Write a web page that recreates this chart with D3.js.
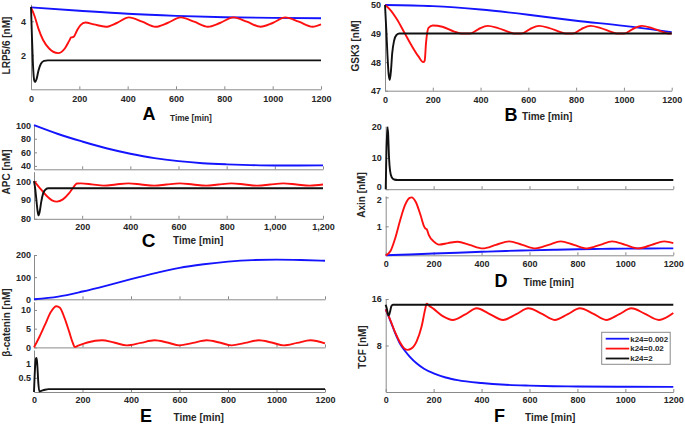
<!DOCTYPE html>
<html>
<head>
<meta charset="utf-8">
<script src="https://cdn.jsdelivr.net/npm/d3@7"></script>
<style>
  html, body { margin: 0; padding: 0; background: #fff; }
  svg { display: block; font-family: "Liberation Sans", Arial, sans-serif; font-weight: bold; }
  .axis .domain, .axis .tick line { stroke: #8a8a8a; stroke-width: 1; }
  .axis text { fill: #262626; font-size: 9px; font-weight: bold; }
</style>
</head>
<body>
<svg id="chart" width="685" height="424"></svg>
<script>
// ---------- data (time [min], concentration [nM]) ----------
const timeTicks = [0, 200, 400, 600, 800, 1000, 1200];
const timeTicksC = [200, 400, 600, 800, 1000, 1200];
const seriesNames = ["k24=0.002", "k24=0.02", "k24=2"];
const seriesColors = ["#1414ff", "#ff1010", "#111111"];

// A: LRP5/6
const lrpBlue = [[0,4.82],[200,4.62],[400,4.44],[600,4.32],[800,4.24],[1000,4.2],[1200,4.18]];
const lrpRed = [[0,4.82],[15,4.3],[30,3.6],[50,2.9],[75,2.4],[112,2.13],[140,2.4],[158,2.85],[166,3.05],[176,3.08],[190,3.45],[205,3.78],[225,3.93],[260,3.82],[310,3.68],[355,3.9],[405,4.23],[460,3.98],[515,3.68],[565,3.9],[620,4.23],[675,3.98],[732,3.68],[782,3.9],[838,4.23],[893,3.98],[950,3.68],[1000,3.9],[1052,4.23],[1108,3.98],[1165,3.68],[1200,3.82]];
const lrpBlack = [[0,4.85],[3,3.5],[8,1.5],[13,0.55],[17,0.42],[23,0.6],[31,1.1],[41,1.5],[54,1.67],[70,1.7],[1200,1.7]];

// B: GSK3
const gskBlue = [[0,50],[200,49.96],[400,49.84],[600,49.66],[800,49.45],[1000,49.27],[1200,49.05]];
const gskRed = [[0,50],[20,49.85],[50,49.5],[80,49.05],[110,48.6],[140,48.2],[160,48.0],[166,48.05],[172,48.7],[182,49.2],[200,49.28],[240,49.24],[290,49.07],[320,49.0],[355,49.0],[390,49.15],[430,49.27],[470,49.2],[520,49.05],[540,49.0],[570,49.0],[605,49.15],[645,49.27],[685,49.2],[735,49.05],[755,49.0],[785,49.0],[820,49.15],[860,49.27],[900,49.2],[950,49.05],[970,49.0],[1000,49.0],[1035,49.15],[1075,49.27],[1115,49.2],[1165,49.05],[1185,49.0],[1200,49.0]];
const gskBlack = [[0,50],[5,49.2],[10,48.3],[15,47.6],[20,47.38],[25,47.7],[30,48.3],[38,48.75],[48,48.95],[60,49.0],[1200,49.0]];

// C: APC
const apcBlue = [[0,100],[100,87],[200,76],[300,66],[400,58],[500,51.5],[600,47],[700,44],[800,42.3],[900,41.2],[1000,40.6],[1100,40.5],[1200,40.8]];
const apcRed = [[0,100],[20,97],[50,92.5],[75,89.8],[95,89.1],[120,90.3],[145,93.5],[165,97],[178,98.7],[195,98.8],[240,98.3],[290,97.6],[340,98.2],[392,98.8],[445,98.2],[500,97.6],[550,98.2],[605,98.8],[660,98.2],[715,97.6],[765,98.2],[820,98.8],[875,98.2],[930,97.6],[980,98.2],[1035,98.8],[1090,98.2],[1145,97.6],[1200,98.2]];
const apcBlack = [[0,100],[5,96],[10,90],[15,84],[19,81.8],[24,84],[30,89],[38,93.5],[48,95.6],[60,96.2],[1200,96.2]];

// D: Axin
const axinBlue = [[0,0],[100,0.03],[200,0.06],[300,0.09],[400,0.12],[500,0.15],[600,0.17],[700,0.19],[800,0.21],[900,0.22],[1000,0.23],[1100,0.235],[1200,0.24]];
const axinRed = [[0,0],[20,0.15],[40,0.6],[60,1.2],[80,1.72],[100,1.98],[108,2.0],[125,1.85],[145,1.4],[160,1.0],[165,0.93],[171,0.9],[180,0.7],[200,0.48],[222,0.37],[260,0.42],[300,0.47],[350,0.36],[405,0.24],[460,0.36],[515,0.48],[570,0.36],[625,0.24],[680,0.36],[730,0.48],[785,0.36],[840,0.24],[895,0.36],[945,0.48],[1000,0.36],[1055,0.24],[1110,0.36],[1162,0.48],[1200,0.42]];
const axinBlack = [[0,0],[3,12],[7,19.8],[10,18],[14,10],[18,6],[25,3.8],[35,3.1],[50,2.95],[1200,2.95]];

// E: beta-catenin
const bcatBlue = [[0,0],[100,12],[200,35],[300,62],[400,91],[500,118],[600,142],[700,158],[800,170],[900,177],[1000,179],[1100,177.5],[1200,174]];
const bcatRed = [[0,0],[20,2.5],[45,6],[70,9.5],[92,11],[107,10.6],[125,8],[145,4.2],[160,1.2],[168,0.1],[180,0.4],[220,1.3],[280,1.9],[330,1.3],[383,0.55],[440,1.2],[497,1.9],[550,1.3],[600,0.55],[655,1.2],[712,1.9],[765,1.3],[815,0.55],[870,1.2],[927,1.9],[980,1.3],[1030,0.55],[1085,1.2],[1140,1.9],[1200,1.05]];
const bcatBlack = [[0,0],[4,0.8],[8,1.18],[11,1.2],[14,0.9],[18,0.3],[22,0.02],[30,0.04],[45,0.08],[60,0.1],[80,0.1],[1200,0.1]];

// F: TCF
const tcfBlue = [[0,14.2],[20,12.2],[40,10.1],[60,8.3],[80,7.1],[100,6.1],[130,4.9],[160,4.0],[200,3.2],[250,2.5],[300,2.05],[400,1.55],[500,1.25],[600,1.1],[700,1.0],[800,0.95],[1000,0.9],[1200,0.88]];
const tcfRed = [[0,14.2],[20,12.3],[40,10.2],[60,8.5],[75,7.6],[90,7.25],[108,7.5],[130,8.8],[150,11.3],[165,14.3],[171,15.2],[180,14.9],[200,14.3],[240,13.0],[280,12.4],[330,13.3],[380,14.4],[430,13.5],[490,12.4],[545,13.4],[595,14.4],[650,13.5],[705,12.4],[760,13.4],[810,14.4],[865,13.5],[920,12.4],[975,13.4],[1025,14.4],[1080,13.5],[1140,12.4],[1200,13.6]];
const tcfBlack = [[0,15],[5,14.3],[10,13.3],[14,13.2],[18,13.8],[24,14.8],[30,15],[1200,15]];

// ---------- layout ----------
const plainFmt = d3.format("d");
const commaFmt = d3.format(",");

const panels = [
  { x: [31, 321], xTicks: timeTicks, fmt: plainFmt, xPad: 6,
    subs: [{ dom: [0, 5], rng: [89.3, 4.3], ticks: [2, 4], pad: 5, fmt: plainFmt, series: [lrpBlue, lrpRed, lrpBlack] }],
    ylabel: { text: "LRP5/6 [nM]", x: 9.5, y: 45.5 },
    letter: { text: "A", x: 149, y: 120, size: 18 },
    time: { x: 170, y: 120.5, size: 8.3 } },
  { x: [385, 671.7], xTicks: timeTicks, fmt: plainFmt, xPad: 6,
    subs: [{ dom: [47, 50], rng: [90.7, 5], ticks: [47, 48, 49, 50], pad: 4, fmt: plainFmt, series: [gskBlue, gskRed, gskBlack] }],
    ylabel: { text: "GSK3 [nM]", x: 358.5, y: 46 },
    letter: { text: "B", x: 511, y: 120.5, size: 18 },
    time: { x: 522, y: 120, size: 10 } },
  { x: [34, 323], xTicks: timeTicksC, fmt: commaFmt, xPad: 5,
    subs: [
      { dom: [35, 100], rng: [169.3, 125.2], ticks: [40, 60, 80, 100], pad: 3, fmt: plainFmt, series: [apcBlue] },
      { dom: [80, 105], rng: [218.8, 171.7], ticks: [80, 90, 100], pad: 3, fmt: plainFmt, series: [apcRed, apcBlack] }],
    ylabel: { text: "APC [nM]", x: 9.5, y: 172 },
    letter: { text: "C", x: 148.5, y: 246.5, size: 19 },
    time: { x: 173, y: 244, size: 10 } },
  { x: [385.7, 673.3], xTicks: timeTicks, fmt: plainFmt, xPad: 5,
    subs: [
      { dom: [0, 20], rng: [189.2, 126.7], ticks: [0, 10, 20], pad: 4, fmt: plainFmt, nudge: { 0: -2.5 }, series: [axinBlack] },
      { dom: [0, 2.05], rng: [255.3, 195.9], ticks: [1, 2], pad: 4, fmt: plainFmt, nudge: { 2: 2.5 }, series: [axinBlue, axinRed] }],
    ylabel: { text: "Axin [nM]", x: 364.5, y: 195 },
    letter: { text: "D", x: 501, y: 286.5, size: 18 },
    time: { x: 523.5, y: 286, size: 10 } },
  { x: [34, 325], xTicks: timeTicks, fmt: plainFmt, xPad: 5,
    subs: [
      { dom: [0, 200], rng: [299.3, 255], ticks: [0, 100, 200], pad: 3, fmt: plainFmt, series: [bcatBlue] },
      { dom: [0, 12.2], rng: [347.4, 301.7], ticks: [0, 5, 10], pad: 3, fmt: plainFmt, series: [bcatRed] },
      { dom: [0, 1.48], rng: [392, 350], ticks: [0.5, 1], pad: 3, fmt: d3.format("~g"), series: [bcatBlack] }],
    ylabel: { text: "β-catenin [nM]", x: 9.5, y: 322.5 },
    letter: { text: "E", x: 146, y: 421.5, size: 18 },
    time: { x: 173.5, y: 421, size: 10 } },
  { x: [385.7, 673.3], xTicks: timeTicks, fmt: plainFmt, xPad: 5,
    subs: [{ dom: [0, 16], rng: [392, 299], ticks: [8, 16], pad: 4, fmt: plainFmt, series: [tcfBlue, tcfRed, tcfBlack] }],
    ylabel: { text: "TCF [nM]", x: 366, y: 347 },
    letter: { text: "F", x: 499.5, y: 421.5, size: 18 },
    time: { x: 525, y: 421, size: 10 } }
];

const svg = d3.select("#chart");

function colorOf(arr) {
  const groups = [
    [lrpBlue, gskBlue, apcBlue, axinBlue, bcatBlue, tcfBlue],
    [lrpRed, gskRed, apcRed, axinRed, bcatRed, tcfRed],
    [lrpBlack, gskBlack, apcBlack, axinBlack, bcatBlack, tcfBlack]
  ];
  for (let i = 0; i < groups.length; i++) if (groups[i].includes(arr)) return seriesColors[i];
  return "#000";
}

panels.forEach(p => {
  const x = d3.scaleLinear().domain([0, 1200]).range(p.x);
  const g = svg.append("g");
  p.subs.forEach((s, i) => {
    const isBottom = i === p.subs.length - 1;
    const y = d3.scaleLinear().domain(s.dom).range(s.rng);
    // bottom axis
    const xa = d3.axisBottom(x).tickValues(p.xTicks).tickSizeInner(-3).tickSizeOuter(0).tickPadding(p.xPad);
    xa.tickFormat(isBottom ? p.fmt : () => "");
    g.append("g").attr("class", "axis").attr("transform", `translate(0,${s.rng[0]})`).call(xa);
    // left axis
    const ya = d3.axisLeft(y).tickValues(s.ticks).tickSizeInner(-3).tickSizeOuter(0).tickPadding(s.pad).tickFormat(s.fmt);
    const yg = g.append("g").attr("class", "axis").attr("transform", `translate(${p.x[0]},0)`).call(ya);
    if (s.nudge) {
      yg.selectAll(".tick text").attr("y", d => (s.nudge[d] || 0));
    }
    // lines
    const line = d3.line().x(d => x(d[0])).y(d => y(d[1])).curve(d3.curveMonotoneX);
    s.series.forEach(ser => {
      g.append("path").datum(ser).attr("d", line)
        .attr("fill", "none").attr("stroke", colorOf(ser))
        .attr("stroke-width", 1.9).attr("stroke-linejoin", "round");
    });
  });
  // y label
  g.append("text").attr("transform", `translate(${p.ylabel.x},${p.ylabel.y}) rotate(-90)`)
    .attr("text-anchor", "middle").attr("font-size", 10).attr("fill", "#262626").text(p.ylabel.text);
  // panel letter
  g.append("text").attr("x", p.letter.x).attr("y", p.letter.y).attr("text-anchor", "middle")
    .attr("font-size", p.letter.size).attr("fill", "#000").text(p.letter.text);
  // time label
  g.append("text").attr("x", p.time.x).attr("y", p.time.y)
    .attr("font-size", p.time.size).attr("fill", "#262626").text("Time [min]");
});

// legend in panel F
const leg = svg.append("g").attr("transform", "translate(601.7,332.3)");
leg.append("rect").attr("width", 68.5).attr("height", 32).attr("fill", "#fff").attr("stroke", "#8a8a8a");
seriesNames.forEach((n, i) => {
  const yy = 6.4 + i * 9.9;
  leg.append("line").attr("x1", 4).attr("x2", 27.5).attr("y1", yy).attr("y2", yy)
    .attr("stroke", seriesColors[i]).attr("stroke-width", 1.8);
  leg.append("text").attr("x", 28.5).attr("y", yy + 2.9).attr("font-size", 8).attr("fill", "#262626").text(n);
});
</script>
</body>
</html>
